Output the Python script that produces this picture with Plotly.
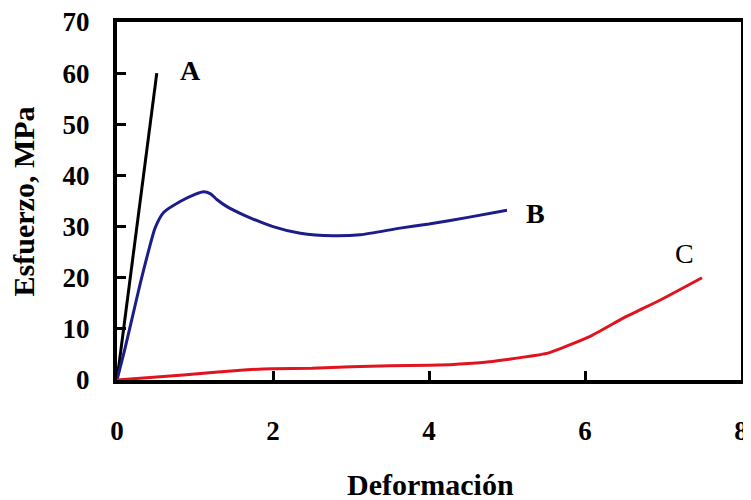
import plotly.graph_objects as go

# Series A
a_x = [0.0, 0.51]
a_y = [0.0, 60.0]

# Series B
b_x = [0, 0.1, 0.2, 0.3, 0.4, 0.49, 0.6, 0.81, 1.0, 1.11, 1.2, 1.28, 1.4, 1.62, 2.0, 2.35, 2.77, 3.12, 3.63, 4.0, 4.5, 5.0]
b_y = [0, 6, 12.5, 19, 25, 29.8, 32.8, 34.9, 36.3, 36.8, 36.4, 35.3, 34.0, 32.3, 30.0, 28.7, 28.2, 28.4, 29.7, 30.5, 31.8, 33.2]

# Series C
c_x = [0, 0.85, 1.67, 2.0, 2.5, 3.0, 3.5, 4.0, 4.27, 4.69, 5.0, 5.51, 6.06, 6.49, 6.96, 7.5]
c_y = [0, 1.0, 2.0, 2.2, 2.3, 2.6, 2.8, 2.9, 3.0, 3.4, 4.0, 5.2, 8.5, 12.1, 15.6, 20.0]

labels = ["A", "B", "C"]
label_x = [0.94, 5.36, 7.27]
label_y = [60.6, 32.5, 24.8]

x_ticks = [0, 2, 4, 6, 8]
y_ticks = [0, 10, 20, 30, 40, 50, 60, 70]

x_title = "Deformación"
y_title = "Esfuerzo, MPa"

FONT = "'Liberation Serif', 'Times New Roman', serif"

fig = go.Figure()
fig.add_trace(go.Scatter(x=a_x, y=a_y, mode="lines", line=dict(color="#000000", width=3), showlegend=False))
fig.add_trace(go.Scatter(x=b_x, y=b_y, mode="lines", line=dict(color="#1c1c8a", width=3, shape="spline", smoothing=0.6), showlegend=False))
fig.add_trace(go.Scatter(x=c_x, y=c_y, mode="lines", line=dict(color="#e0141e", width=3, shape="spline", smoothing=0.4), showlegend=False))

weights = ["bold", "bold", "normal"]
for t, lx, ly, w in zip(labels, label_x, label_y, weights):
    fig.add_annotation(x=lx, y=ly, text=t, showarrow=False,
                       font=dict(family=FONT, size=28, color="#000000", weight=w))

fig.add_annotation(xref="paper", yref="paper", x=0.502, y=-0.293, text=x_title, showarrow=False,
                   xanchor="center", yanchor="middle",
                   font=dict(family=FONT, size=30, color="#000000", weight="bold"))
fig.add_annotation(xref="paper", yref="paper", x=-0.15, y=0.5, text=y_title, showarrow=False,
                   textangle=-90, xanchor="center", yanchor="middle",
                   font=dict(family=FONT, size=30, color="#000000", weight="bold"))

# page body has an 8px default margin; size the figure so the plot area lands where the reference has it
fig.update_layout(
    width=743, height=492,
    margin=dict(l=109, r=10, t=14, b=120),
    paper_bgcolor="white", plot_bgcolor="white",
    font=dict(family=FONT, color="#000000"),
)
fig.update_xaxes(
    range=[0, 8], tickvals=x_ticks, showgrid=False, zeroline=False, automargin=False,
    showline=True, linecolor="#000000", linewidth=4, mirror=True,
    ticks="inside", ticklen=9, tickwidth=3, tickcolor="#000000",
    tickfont=dict(family=FONT, size=27, weight="bold"),
    ticklabelstandoff=24, ticklabeloverflow="allow",
)
fig.update_yaxes(
    range=[0, 70], tickvals=y_ticks, showgrid=False, zeroline=False, automargin=False,
    showline=True, linecolor="#000000", linewidth=4, mirror=True,
    ticks="inside", ticklen=9, tickwidth=3, tickcolor="#000000",
    tickfont=dict(family=FONT, size=27, weight="bold"),
    ticklabelstandoff=18, ticklabeloverflow="allow",
)

fig.write_html("out.html")
